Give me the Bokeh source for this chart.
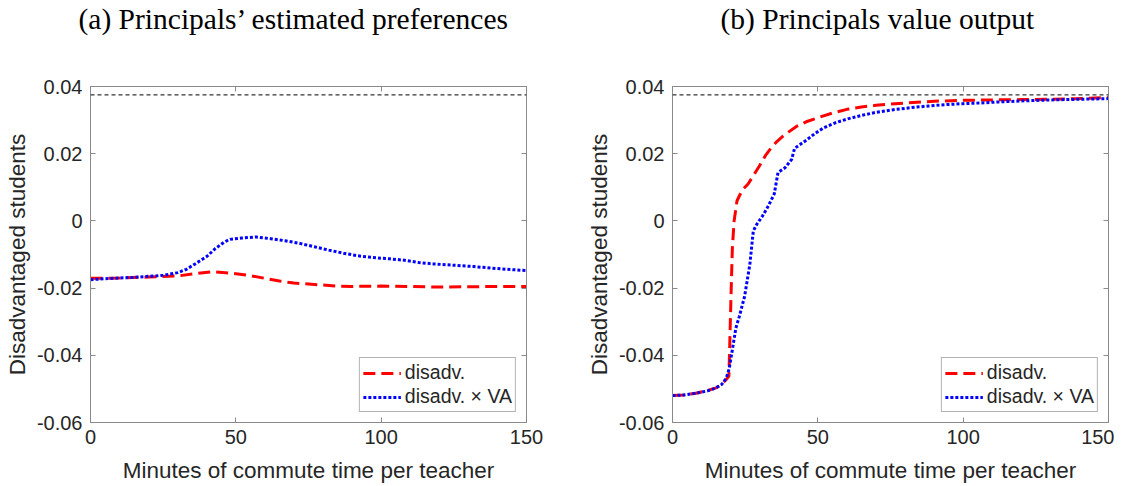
from bokeh.plotting import figure
from bokeh.models import Range1d, LinearAxis, FixedTicker, Span, Legend, LegendItem
from bokeh.layouts import row, column
from bokeh.embed import file_html
from bokeh.resources import INLINE

# ---------------- data ----------------
titles = ["(a) Principals\u2019 estimated preferences", "(b) Principals value output"]
x_label = "Minutes of commute time per teacher"
y_label = "Disadvantaged students"
series_names = ["disadv.", "disadv. \u00d7 VA"]
x_ticks = [0, 50, 100, 150]
y_ticks = [-0.06, -0.04, -0.02, 0.0, 0.02, 0.04]
y_tick_labels = ["-0.06", "-0.04", "-0.02", "0", "0.02", "0.04"]
ref_level = 0.0375

# panel (a) : estimated preferences
a_red_x = [0, 10, 20, 30, 35, 42, 50, 55, 60, 65, 70, 75, 80, 85, 90, 100, 110, 120, 130, 140, 150]
a_red_y = [-0.0171, -0.0170, -0.0167, -0.0164, -0.0158, -0.0151, -0.0157, -0.0163, -0.0171,
           -0.0179, -0.0185, -0.0188, -0.0191, -0.0194, -0.0195, -0.0194, -0.0195, -0.0197,
           -0.0196, -0.0195, -0.0195]
a_blue_x = [0, 5, 10, 15, 20, 25, 30, 33, 36, 40, 43, 46, 48, 52, 57, 62, 67, 72, 77, 82, 87,
            92, 97, 103, 108, 113, 118, 125, 132, 140, 145, 150]
a_blue_y = [-0.0175, -0.0172, -0.0170, -0.0168, -0.0165, -0.0162, -0.0154, -0.0144, -0.0128,
            -0.0106, -0.0082, -0.0063, -0.0055, -0.0051, -0.0048, -0.0053, -0.0059, -0.0067,
            -0.0077, -0.0087, -0.0096, -0.0104, -0.0109, -0.0113, -0.0117, -0.0124, -0.0128,
            -0.0132, -0.0136, -0.0142, -0.0145, -0.0148]

# panel (b) : value output
b_red_x = [0, 4, 8, 12, 15, 17, 18.5, 19.4, 19.6, 19.9, 20.2, 20.6, 21.2, 22.2, 24, 26, 28, 30,
           32, 34, 36, 38, 40, 43, 46, 50, 55, 60, 65, 70, 80, 90, 100, 110, 120, 130, 140, 150]
b_red_y = [-0.0520, -0.0518, -0.0513, -0.0505, -0.0497, -0.0485, -0.0472, -0.0462, -0.0400,
           -0.0300, -0.0200, -0.0080, 0.0000, 0.0060, 0.0092, 0.0110, 0.0137, 0.0165, 0.0195,
           0.0218, 0.0237, 0.0252, 0.0265, 0.0283, 0.0295, 0.0307, 0.0321, 0.0332, 0.0339,
           0.0344, 0.0351, 0.0356, 0.0359, 0.0360, 0.0361, 0.0362, 0.0364, 0.0367]
b_blue_x = [0, 4, 8, 12, 15, 17, 18.5, 19.5, 20.6, 21.8, 23, 24.8, 26.6, 27.8, 29, 31, 33, 35,
            36.3, 38.7, 41, 42, 44, 46, 49, 52, 56, 60, 65, 70, 76, 82, 88, 94, 100, 106, 112,
            120, 130, 140, 150]
b_blue_y = [-0.0520, -0.0518, -0.0513, -0.0506, -0.0497, -0.0486, -0.0468, -0.0440, -0.0383,
            -0.0319, -0.0284, -0.0225, -0.0130, -0.0030, -0.0010, 0.0015, 0.0045, 0.0080,
            0.0144, 0.0158, 0.0183, 0.0216, 0.0228, 0.0240, 0.0260, 0.0277, 0.0292, 0.0303,
            0.0314, 0.0323, 0.0331, 0.0337, 0.0342, 0.0346, 0.0349, 0.0351, 0.0354, 0.0357,
            0.0360, 0.0362, 0.0364]

# ---------------- styling ----------------
TXT = "#262626"
AX = "#8a8a8a"
SANS = "Liberation Sans"
SERIF = "Liberation Serif"
FRAME_W, FRAME_H = 436, 336
TITLE_H = 44
TOP = 86 - TITLE_H
BOTTOM = 60


def make_title(title, width, title_dx):
    t = figure(width=width, height=TITLE_H, output_backend="svg", toolbar_location=None,
               x_range=Range1d(0, 1), y_range=Range1d(0, 1), min_border=0,
               x_axis_type=None, y_axis_type=None)
    t.outline_line_color = None
    t.grid.visible = False
    t.background_fill_color = "white"
    t.border_fill_color = "white"
    t.title.text = title
    t.title.text_font = SERIF
    t.title.text_font_size = "29.5px"
    t.title.text_font_style = "normal"
    t.title.text_color = "black"
    t.title.align = "left"
    t.title.offset = title_dx
    if "standoff" in t.title.properties():
        t.title.standoff = 0
    return t


def make_panel(width, left_border, rx, ry, bx, by):
    p = figure(frame_width=FRAME_W, frame_height=FRAME_H, output_backend="svg",
               toolbar_location=None,
               x_range=Range1d(x_ticks[0], x_ticks[-1]), y_range=Range1d(y_ticks[0], y_ticks[-1]),
               min_border_left=left_border, min_border_right=width - left_border - FRAME_W,
               min_border_top=TOP, min_border_bottom=BOTTOM)
    p.background_fill_color = "white"
    p.border_fill_color = "white"
    p.outline_line_color = AX
    p.grid.visible = False

    xa = p.xaxis[0]
    ya = p.yaxis[0]
    xa.ticker = FixedTicker(ticks=x_ticks)
    ya.ticker = FixedTicker(ticks=y_ticks)
    ya.major_label_overrides = {t: l for t, l in zip(y_ticks, y_tick_labels)}
    for ax in (xa, ya):
        ax.axis_line_color = AX
        ax.major_tick_line_color = AX
        ax.major_tick_in = 5
        ax.major_tick_out = 0
        ax.minor_tick_line_color = None
        ax.major_label_text_font = SANS
        ax.major_label_text_font_size = "20px"
        ax.major_label_text_color = TXT
        ax.major_label_standoff = 8
        ax.axis_label_text_font = SANS
        ax.axis_label_text_font_size = "22.5px"
        ax.axis_label_text_font_style = "normal"
        ax.axis_label_text_color = TXT
    xa.major_label_standoff = 7
    xa.axis_label = x_label
    ya.axis_label = y_label
    xa.axis_label_standoff = 11
    ya.axis_label_standoff = 4

    top = LinearAxis(ticker=FixedTicker(ticks=x_ticks))
    right = LinearAxis(ticker=FixedTicker(ticks=y_ticks))
    for ax in (top, right):
        ax.axis_line_color = AX
        ax.major_tick_line_color = AX
        ax.major_tick_in = 5
        ax.major_tick_out = 0
        ax.minor_tick_line_color = None
        ax.major_label_text_font_size = "1px"
        ax.major_label_text_color = None
        ax.major_label_standoff = 0
    p.add_layout(top, "above")
    p.add_layout(right, "right")

    p.add_layout(Span(location=ref_level, dimension="width", line_color="black",
                      line_width=1, line_dash="4 3"))

    r1 = p.line(rx, ry, line_color="#ff0000", line_width=3, line_dash="12 6")
    r2 = p.line(bx, by, line_color="#0000ff", line_width=3, line_dash="3 2")

    leg = Legend(items=[LegendItem(label=series_names[0], renderers=[r1]),
                        LegendItem(label=series_names[1], renderers=[r2])],
                 location="bottom_right")
    leg.margin = 10
    leg.padding = 3
    leg.spacing = 1
    leg.glyph_width = 38
    leg.glyph_height = 20
    leg.label_height = 20
    leg.label_standoff = 4
    leg.label_text_font = SANS
    leg.label_text_font_size = "19.5px"
    leg.label_text_color = TXT
    leg.border_line_color = "#666666"
    leg.border_line_width = 1
    leg.background_fill_color = "white"
    leg.background_fill_alpha = 1.0
    p.add_layout(leg, "center")
    return p


W1, W2 = 560, 554
left_col = column(make_title(titles[0], W1, -12),
                  make_panel(W1, 90, a_red_x, a_red_y, a_blue_x, a_blue_y), spacing=0)
right_col = column(make_title(titles[1], W2, 48),
                   make_panel(W2, 112, b_red_x, b_red_y, b_blue_x, b_blue_y), spacing=0)
layout = row(left_col, right_col, spacing=0)

open("out.html", "w").write(file_html(layout, INLINE))
